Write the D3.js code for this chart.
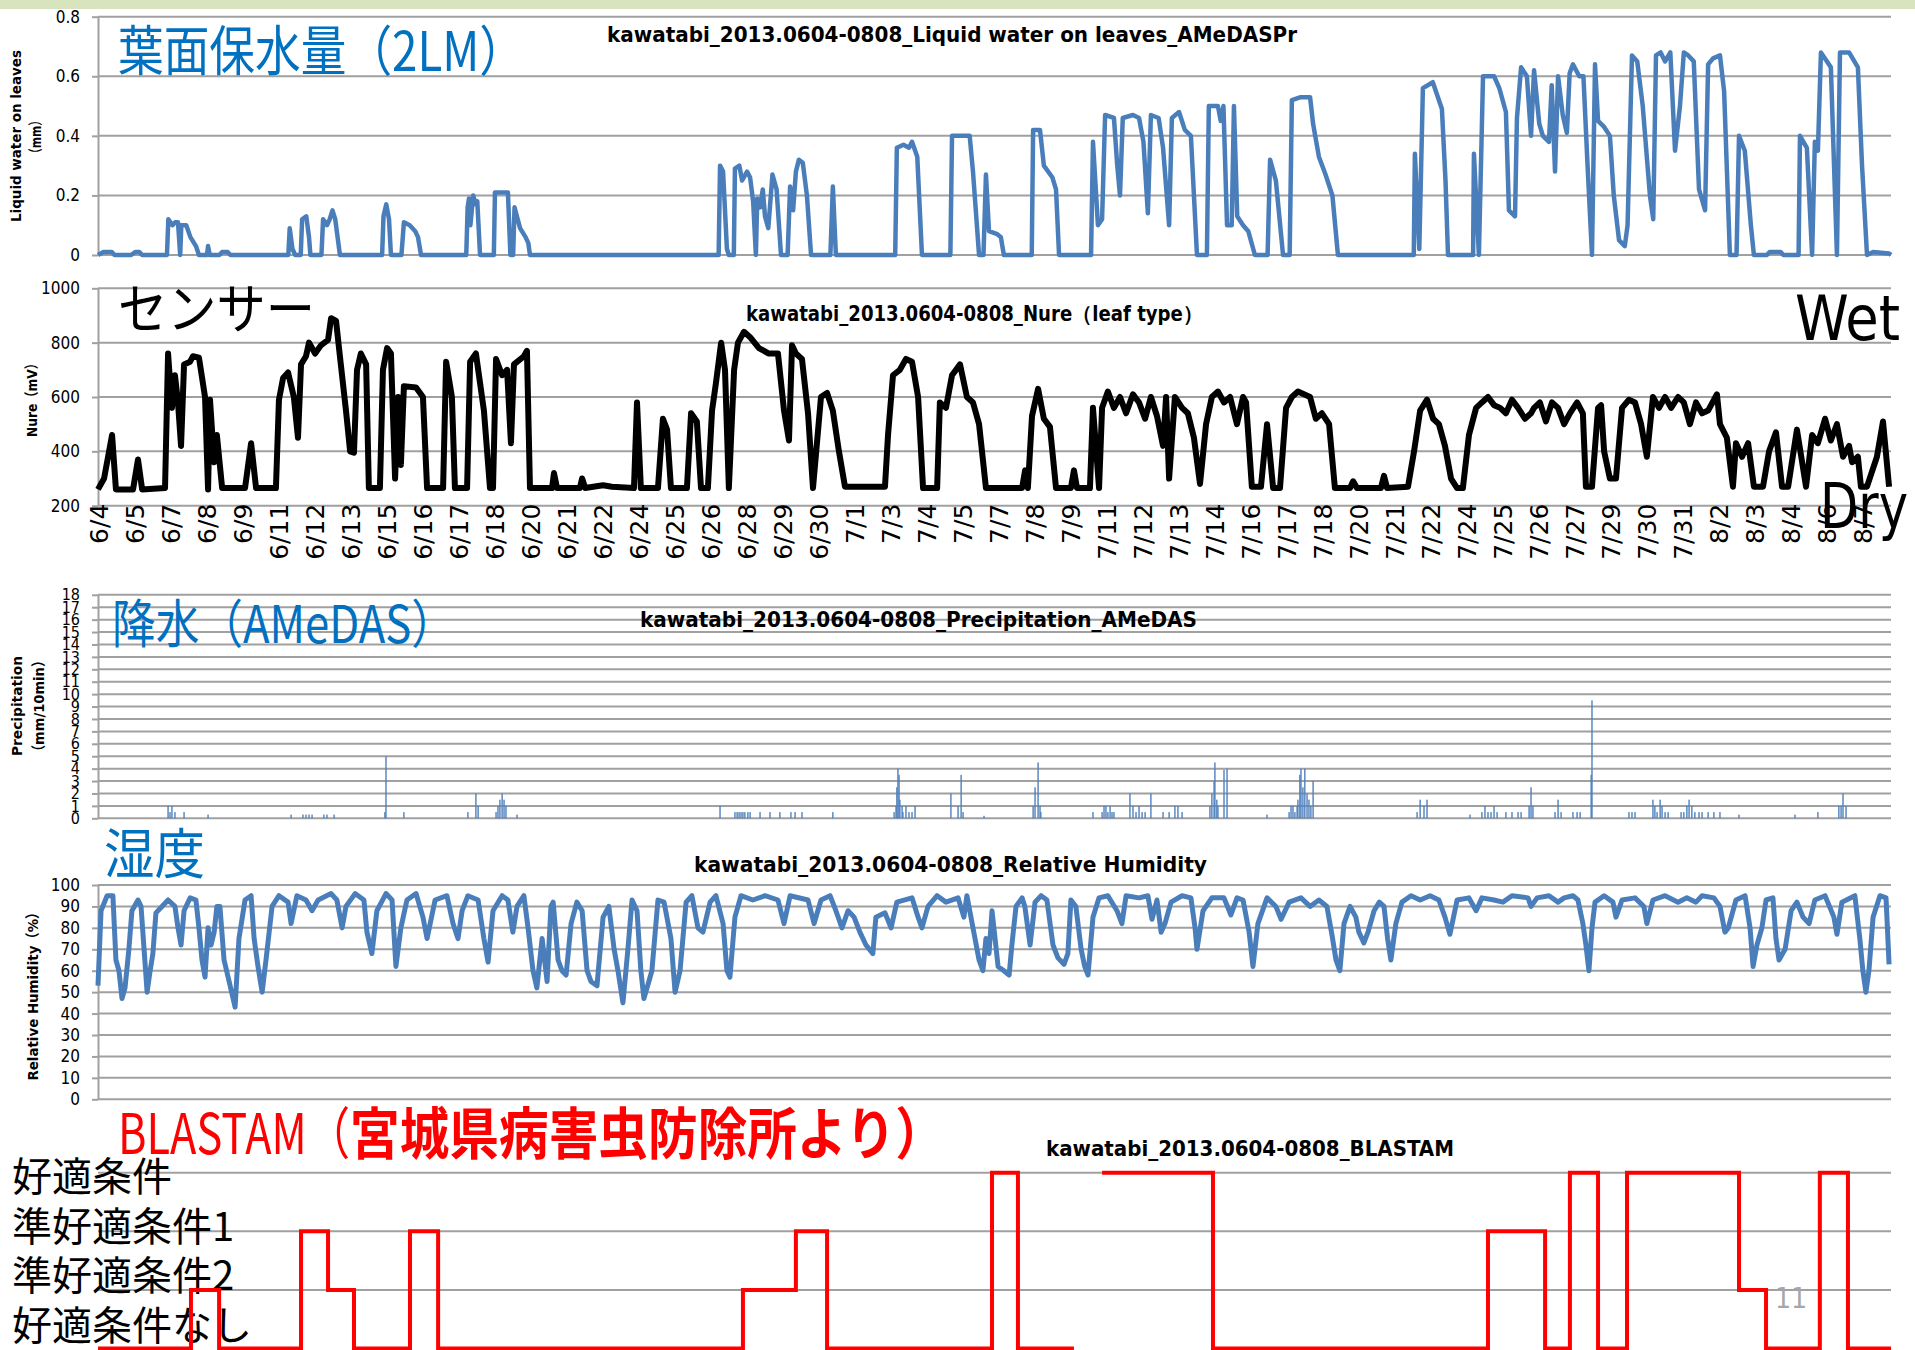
<!DOCTYPE html>
<html><head><meta charset="utf-8">
<script src="https://cdn.jsdelivr.net/npm/d3@7"></script>
<style>
body{margin:0;background:#fff}
svg{display:block}
.narrow{font-family:"Liberation Sans Narrow","Arial Narrow","DejaVu Sans Condensed","Liberation Sans",sans-serif}
.jp{font-family:"Noto Sans CJK JP","Noto Sans",sans-serif}
.ytitle{font-family:"DejaVu Sans","Noto Sans CJK JP",sans-serif;font-weight:bold;font-size:14.5px}
</style></head><body>
<svg id="c" width="1915" height="1350"></svg>
<script>
// ---------- DATA (time in days since 2013-06-04 00:00) ----------
const dateLabels = ["6/4","6/5","6/7","6/8","6/9","6/11","6/12","6/13","6/15","6/16","6/17","6/18","6/20","6/21","6/22","6/24","6/25","6/26","6/28","6/29","6/30","7/1","7/3","7/4","7/5","7/7","7/8","7/9","7/11","7/12","7/13","7/14","7/16","7/17","7/18","7/20","7/21","7/22","7/24","7/25","7/26","7/27","7/29","7/30","7/31","8/2","8/3","8/4","8/6","8/7"];
const labelStepDays = 188 * 10 / 1440; // one label every 188 ten-minute samples

const leafWaterTicks = [0, 0.2, 0.4, 0.6, 0.8];
const leafWater = [[0,0],[0.2,0.01],[0.5,0.01],[0.6,0],[1.2,0],[1.35,0.01],[1.5,0.01],[1.6,0],
[2.5,0],[2.55,0.12],[2.7,0.1],[2.8,0.11],[2.9,0.11],[2.98,0],[3.02,0.1],[3.2,0.1],[3.35,0.06],[3.55,0.03],[3.66,0],[3.95,0],[3.99,0.03],[4.05,0],[4.4,0],[4.5,0.01],[4.7,0.01],[4.8,0],
[6.9,0],[6.95,0.09],[7.05,0.02],[7.15,0],[7.35,0],[7.4,0.12],[7.55,0.13],[7.65,0.06],[7.7,0],[8.1,0],[8.16,0.12],[8.3,0.1],[8.4,0.12],[8.5,0.15],[8.6,0.12],[8.7,0.05],[8.77,0],
[10.3,0],[10.35,0.13],[10.45,0.17],[10.55,0.12],[10.62,0],[11.0,0],[11.09,0.11],[11.3,0.1],[11.5,0.08],[11.6,0.06],[11.71,0],
[13.35,0],[13.4,0.16],[13.45,0.19],[13.5,0.1],[13.6,0.2],[13.7,0.17],[13.75,0.18],[13.85,0],[14.35,0],[14.39,0.21],[14.86,0.21],[14.95,0],[15.05,0],[15.1,0.16],[15.3,0.09],[15.5,0.06],[15.6,0.04],[15.66,0],
[22.5,0],[22.55,0.3],[22.66,0.28],[22.8,0.02],[22.87,0],[23.05,0],[23.09,0.29],[23.25,0.3],[23.35,0.25],[23.53,0.28],[23.64,0.26],[23.75,0.18],[23.85,0],[23.9,0.19],[24.0,0.16],[24.1,0.22],[24.18,0.13],[24.3,0.09],[24.45,0.27],[24.6,0.22],[24.76,0],
[25.0,0],[25.09,0.23],[25.2,0.15],[25.3,0.28],[25.41,0.32],[25.55,0.31],[25.7,0.2],[25.85,0],[26.55,0],[26.64,0.23],[26.75,0],
[28.9,0],[28.96,0.36],[29.2,0.37],[29.4,0.36],[29.51,0.38],[29.7,0.33],[29.87,0],[30.9,0],[30.96,0.4],[31.6,0.4],[31.72,0.28],[31.94,0],[32.1,0],[32.19,0.27],[32.3,0.08],[32.6,0.07],[32.73,0.06],[32.84,0],
[33.85,0],[33.9,0.42],[34.15,0.42],[34.29,0.3],[34.6,0.26],[34.73,0.22],[34.84,0],
[36.0,0],[36.07,0.38],[36.25,0.1],[36.4,0.12],[36.51,0.47],[36.83,0.46],[36.95,0.3],[37.05,0.2],[37.15,0.46],[37.52,0.47],[37.74,0.46],[37.9,0.38],[38.06,0.14],[38.17,0.47],[38.45,0.46],[38.61,0.36],[38.83,0.1],[38.93,0.46],[39.19,0.48],[39.4,0.42],[39.62,0.4],[39.84,0],
[40.2,0],[40.27,0.5],[40.6,0.5],[40.7,0.45],[40.8,0.5],[40.93,0.1],[41.1,0.1],[41.18,0.5],[41.3,0.13],[41.51,0.1],[41.7,0.08],[41.94,0],
[42.4,0],[42.49,0.32],[42.7,0.25],[42.96,0],[43.2,0],[43.28,0.52],[43.6,0.53],[43.94,0.53],[44.05,0.44],[44.26,0.33],[44.5,0.27],[44.75,0.2],[44.95,0],
[47.7,0],[47.74,0.34],[47.9,0.02],[48.03,0.56],[48.39,0.58],[48.72,0.49],[48.85,0.25],[48.94,0],
[49.85,0],[49.88,0.34],[50.06,0],[50.21,0.6],[50.61,0.6],[50.8,0.56],[51.04,0.48],[51.15,0.15],[51.37,0.13],[51.44,0.46],[51.59,0.63],[51.8,0.6],[51.95,0.4],[52.06,0.62],[52.25,0.44],[52.38,0.4],[52.6,0.38],[52.7,0.57],[52.82,0.28],[52.93,0.6],[53.1,0.47],[53.25,0.41],[53.35,0.61],[53.47,0.64],[53.7,0.6],[53.85,0.6],[54.0,0.3],[54.16,0],[54.27,0.64],[54.38,0.45],[54.6,0.43],[54.81,0.4],[54.95,0.2],[55.14,0.05],[55.35,0.03],[55.45,0.1],[55.61,0.67],[55.8,0.65],[56.0,0.5],[56.26,0.2],[56.38,0.12],[56.48,0.67],[56.65,0.68],[56.81,0.65],[57.0,0.68],[57.17,0.35],[57.35,0.5],[57.49,0.68],[57.65,0.67],[57.85,0.65],[58.04,0.22],[58.26,0.15],[58.37,0.64],[58.55,0.66],[58.8,0.67],[58.95,0.55],[59.16,0],
[59.4,0],[59.49,0.4],[59.7,0.35],[59.92,0.1],[60.03,0],[60.5,0],[60.6,0.01],[61.0,0.01],[61.1,0],[61.65,0],[61.7,0.4],[61.95,0.36],[62.14,0],[62.24,0.38],[62.35,0.35],[62.46,0.68],[62.82,0.63],[63.04,0],[63.15,0.68],[63.48,0.68],[63.8,0.63],[63.95,0.3],[64.13,0],[64.35,0.01],[64.93,0.005],[65,0]];

const nureTicks = [200, 400, 600, 800, 1000];
const nure = [[0,260],[0.22,300],[0.51,460],[0.65,260],[1.27,260],[1.45,370],[1.6,260],[2.43,265],[2.54,760],[2.68,560],[2.79,680],[2.9,580],[3.01,420],[3.12,720],[3.34,730],[3.44,750],[3.66,745],[3.88,600],[3.99,260],[4.06,590],[4.21,360],[4.31,460],[4.5,265],[5.33,265],[5.55,430],[5.73,265],[6.45,265],[6.56,590],[6.71,670],[6.89,690],[7.1,600],[7.25,450],[7.36,720],[7.54,750],[7.65,800],[7.87,760],[8.08,790],[8.34,810],[8.45,890],[8.63,880],[8.77,750],[8.99,550],[9.14,400],[9.28,395],[9.39,700],[9.53,760],[9.72,720],[9.82,265],[10.22,265],[10.33,700],[10.48,780],[10.62,760],[10.77,300],[10.88,600],[10.98,350],[11.09,640],[11.53,635],[11.78,600],[11.93,265],[12.51,265],[12.62,730],[12.83,600],[12.94,265],[13.38,265],[13.49,730],[13.7,760],[13.99,550],[14.21,265],[14.32,265],[14.43,740],[14.65,680],[14.83,700],[14.97,430],[15.08,720],[15.44,750],[15.55,770],[15.66,265],[16.46,265],[16.53,320],[16.64,265],[17.47,265],[17.55,300],[17.66,265],[18.31,275],[18.63,270],[19.43,265],[19.54,580],[19.68,265],[20.3,265],[20.48,520],[20.63,480],[20.77,265],[21.35,265],[21.5,540],[21.71,510],[21.86,265],[22.11,265],[22.26,550],[22.4,650],[22.59,800],[22.73,700],[22.87,265],[23.06,700],[23.2,800],[23.42,840],[23.64,820],[23.96,780],[24.32,760],[24.65,760],[24.87,550],[25.05,440],[25.16,790],[25.3,760],[25.52,740],[25.74,540],[25.92,265],[26.21,600],[26.43,615],[26.64,550],[26.86,400],[27.08,270],[28.53,270],[28.64,460],[28.82,680],[29.07,700],[29.29,740],[29.51,730],[29.73,600],[29.91,265],[30.42,265],[30.52,580],[30.74,560],[30.96,680],[31.25,720],[31.5,600],[31.72,580],[31.94,500],[32.19,265],[33.5,265],[33.61,330],[33.71,265],[33.86,530],[34.08,630],[34.29,520],[34.51,490],[34.73,265],[35.27,265],[35.38,330],[35.49,265],[35.96,265],[36.07,560],[36.29,265],[36.4,560],[36.61,620],[36.83,560],[37.05,600],[37.27,540],[37.52,610],[37.74,580],[37.96,520],[38.17,600],[38.39,530],[38.61,420],[38.72,600],[38.83,300],[39.04,600],[39.3,560],[39.51,540],[39.73,450],[39.95,280],[40.17,500],[40.38,600],[40.6,620],[40.82,580],[41.04,600],[41.29,500],[41.51,600],[41.62,580],[41.83,270],[42.16,270],[42.38,500],[42.6,265],[42.85,265],[43.07,560],[43.28,600],[43.5,620],[43.94,600],[44.15,520],[44.37,540],[44.63,500],[44.84,265],[45.39,265],[45.5,290],[45.64,265],[46.51,265],[46.62,310],[46.73,265],[47.49,270],[47.71,400],[47.93,550],[48.18,590],[48.4,520],[48.61,500],[48.83,420],[49.05,300],[49.27,265],[49.48,265],[49.7,460],[49.96,560],[50.17,580],[50.39,600],[50.61,570],[50.83,560],[51.04,540],[51.26,590],[51.48,560],[51.73,520],[51.95,540],[52.06,560],[52.27,580],[52.49,510],[52.71,580],[52.93,560],[53.15,500],[53.36,540],[53.62,580],[53.83,540],[53.94,270],[54.16,270],[54.38,560],[54.49,570],[54.6,400],[54.81,300],[55.03,300],[55.25,560],[55.5,590],[55.72,580],[55.94,500],[56.15,380],[56.37,600],[56.59,560],[56.81,600],[57.03,560],[57.28,600],[57.49,580],[57.71,500],[57.93,580],[58.15,540],[58.37,550],[58.69,610],[58.8,500],[59.05,450],[59.27,270],[59.38,430],[59.6,380],[59.82,430],[60.03,270],[60.36,270],[60.58,400],[60.83,470],[61.05,270],[61.27,270],[61.59,480],[61.7,410],[61.92,270],[62.14,460],[62.35,430],[62.61,520],[62.82,440],[63.04,500],[63.26,380],[63.48,420],[63.59,360],[63.8,380],[63.91,270],[64.13,270],[64.49,380],[64.71,510],[64.93,270]];

const precipTicks = d3.range(0, 19);
const precip = [[2.54,1],[2.61,0.5],[2.68,1],[2.79,0.5],[3.12,0.5],[3.99,0.3],
[7.0,0.3],[7.43,0.3],[7.54,0.3],[7.65,0.3],[7.76,0.3],[8.19,0.3],[8.3,0.3],[8.56,0.3],
[10.4,0.5],[10.44,5.0],[11.09,0.5],[13.41,0.5],[13.7,2],[13.78,1],
[14.43,0.5],[14.5,1],[14.57,1.5],[14.65,2],[14.72,1.5],[14.79,1],[15.19,0.3],
[22.55,1],[23.09,0.5],[23.17,0.5],[23.24,0.5],[23.31,0.5],[23.38,0.5],[23.45,0.5],[23.56,0.5],[23.64,0.5],
[24.0,0.5],[24.36,0.5],[24.72,0.5],[25.12,0.5],[25.27,0.5],[25.52,0.5],[26.64,0.5],
[28.86,0.5],[28.93,1],[28.96,2.5],[29.0,4],[29.04,3.5],[29.07,1.5],[29.15,1],[29.18,0.5],
[29.29,1],[29.4,0.5],[29.51,0.5],[29.62,1],
[30.92,2],[31.18,1],[31.29,3.5],[31.36,0.5],[32.12,0.2],
[33.9,1],[33.97,2.5],[34.08,4.5],[34.15,1],[34.18,0.5],
[36.07,0.5],[36.4,0.5],[36.47,1],[36.54,1],[36.61,0.5],[36.69,1],[36.76,0.5],[36.83,0.5],
[37.41,2],[37.52,1],[37.63,0.5],[37.74,1],[37.85,0.5],[37.96,0.5],[38.17,2],
[38.61,0.5],[38.83,0.5],[39.04,1],[39.15,1],[39.3,0.5],
[40.31,1],[40.38,2],[40.46,3],[40.49,4.5],[40.56,1.5],[40.6,1],[40.82,3.9],[40.93,4],
[42.38,0.3],
[43.18,0.5],[43.25,1],[43.32,1],[43.39,0.5],[43.47,1],[43.5,1.5],[43.57,3.5],[43.61,4],[43.68,2.5],[43.75,4],[43.83,2],[43.9,1.5],[43.97,1],[44.05,3],
[47.82,0.5],[47.93,1.5],[48.07,1],[48.18,1.5],
[49.74,0.3],[50.17,0.5],[50.28,1],[50.39,0.5],[50.5,0.5],[50.61,1],[50.72,0.5],
[51.04,0.5],[51.26,0.5],[51.48,0.5],[51.59,0.5],[51.88,1],[51.95,2.5],[52.02,1],
[52.82,0.5],[52.93,1.5],[53.04,0.5],[53.47,0.5],[53.62,0.5],[53.73,0.5],
[54.13,3.5],[54.16,9.5],
[55.5,0.5],[55.61,0.5],[55.72,0.5],
[56.37,1.5],[56.44,1],[56.52,0.5],[56.63,1.5],[56.7,1],[56.81,0.5],[56.92,0.5],
[57.39,0.5],[57.49,0.5],[57.6,1],[57.68,1.5],[57.78,1],[57.89,0.5],[58.04,0.5],[58.15,0.5],
[58.37,0.5],[58.58,0.5],[58.8,0.5],[59.49,0.3],
[61.52,0.3],[62.35,0.5],[63.11,1],[63.19,1],[63.26,2],[63.37,1]];

const humidityTicks = d3.range(0, 101, 10);
const humidity = [[0,53],[0.11,88],[0.33,95],[0.54,95],[0.65,65],[0.76,60],[0.87,47],[0.98,52],[1.12,70],[1.23,88],[1.45,93],[1.56,90],[1.67,70],[1.78,50],[1.89,60],[1.99,68],[2.1,87],[2.32,90],[2.54,93],[2.79,90],[2.9,80],[3.01,72],[3.12,88],[3.34,94],[3.55,93],[3.66,80],[3.77,65],[3.88,57],[3.99,80],[4.1,72],[4.21,78],[4.31,90],[4.42,90],[4.57,65],[4.79,53],[4.97,43],[5.11,75],[5.33,93],[5.55,95],[5.66,75],[5.8,62],[5.95,50],[6.09,65],[6.31,90],[6.56,95],[6.89,92],[7.0,82],[7.21,95],[7.54,93],[7.76,88],[7.98,93],[8.45,96],[8.66,93],[8.85,80],[8.99,90],[9.32,96],[9.64,93],[9.75,78],[9.93,68],[10.11,88],[10.44,96],[10.66,93],[10.8,62],[10.98,80],[11.2,93],[11.53,96],[11.78,85],[11.93,75],[12.22,93],[12.65,95],[12.87,82],[13.05,75],[13.2,88],[13.41,95],[13.78,93],[13.99,75],[14.14,64],[14.32,88],[14.65,95],[14.86,93],[15.04,78],[15.19,90],[15.44,95],[15.59,80],[15.77,60],[15.91,52],[16.1,75],[16.28,55],[16.42,90],[16.5,92],[16.68,65],[16.82,60],[16.97,58],[17.15,82],[17.36,92],[17.55,88],[17.73,60],[17.87,55],[18.09,53],[18.31,85],[18.52,90],[18.71,70],[18.85,60],[19.03,45],[19.21,70],[19.36,93],[19.54,88],[19.68,60],[19.79,47],[19.97,55],[20.08,60],[20.3,93],[20.52,92],[20.77,75],[20.92,50],[21.1,60],[21.32,92],[21.53,95],[21.75,80],[21.93,78],[22.19,92],[22.4,95],[22.66,82],[22.8,60],[22.91,57],[23.09,85],[23.31,95],[23.74,93],[24.18,95],[24.65,93],[24.87,82],[25.09,95],[25.74,93],[25.96,82],[26.21,93],[26.54,95],[26.75,88],[26.97,80],[27.19,88],[27.41,85],[27.62,78],[27.84,72],[28.09,68],[28.2,85],[28.53,87],[28.75,80],[28.96,92],[29.51,94],[29.73,85],[29.87,80],[30.09,90],[30.42,95],[30.74,92],[31.18,94],
[31.39,85],[31.5,95],[31.72,80],[31.94,65],[32.08,60],[32.19,75],[32.3,68],[32.41,88],[32.52,75],[32.63,62],[32.84,60],[33.03,58],[33.13,72],[33.28,90],[33.5,94],[33.6,90],[33.79,72],[33.97,92],[34.19,95],[34.4,93],[34.62,72],[34.8,66],[35.02,63],[35.16,68],[35.27,93],[35.45,90],[35.64,70],[35.77,62],[35.89,58],[36.07,85],[36.29,94],[36.61,95],[36.94,88],[37.12,82],[37.27,95],[37.74,94],[38.06,95],[38.21,84],[38.39,93],[38.54,78],[38.68,82],[38.9,92],[39.3,95],[39.62,94],[39.77,80],[39.84,70],[40.06,88],[40.38,94],[40.82,94],[41.07,86],[41.29,94],[41.51,93],[41.73,78],[41.87,62],[42.05,82],[42.38,94],[42.7,90],[42.89,84],[43.18,92],[43.61,94],[43.94,90],[44.26,93],[44.55,90],[44.73,77],[44.88,65],[45.02,60],[45.17,82],[45.39,90],[45.6,85],[45.71,78],[45.89,73],[46.04,78],[46.26,88],[46.45,92],[46.62,90],[46.75,75],[46.87,65],[47.05,82],[47.27,92],[47.6,95],[47.93,93],[48.29,95],[48.61,93],[48.83,85],[49.01,77],[49.27,93],[49.7,94],[49.96,88],[50.17,94],[50.61,93],[50.93,92],[51.26,95],[51.84,94],[51.95,90],[52.17,94],[52.6,95],[52.93,92],[53.15,94],[53.47,95],[53.65,93],[53.83,82],[53.94,72],[54.05,60],[54.16,80],[54.27,92],[54.6,95],[54.92,92],[55.03,85],[55.25,93],[55.72,94],[56.04,90],[56.15,82],[56.37,93],[56.81,95],[57.28,92],[57.6,94],[57.93,92],[58.15,95],[58.58,94],[58.8,90],[58.98,78],[59.1,80],[59.38,93],[59.71,95],[59.89,80],[60.0,62],[60.14,72],[60.32,80],[60.47,93],[60.72,94],[60.83,75],[60.94,65],[61.16,70],[61.38,88],[61.59,92],[61.81,85],[62.03,82],[62.24,93],[62.61,95],[62.93,85],[63.04,77],[63.22,92],[63.69,95],[63.87,75],[63.98,60],[64.09,50],[64.2,60],[64.35,85],[64.6,95],[64.82,94],[64.93,63]];

const blastamLevels = ["好適条件なし","準好適条件2","準好適条件1","好適条件"];
const blastamLabels = ["好適条件","準好適条件1","準好適条件2","好適条件なし"];
const blastam = [[0,0],[3.37,1],[4.39,0],[7.36,2],[8.34,1],[9.28,0],[11.31,2],[12.33,0],[23.38,1],[25.3,2],[26.43,0],[32.41,3],[33.35,0],[35.38,0],[35.38,null],[36.4,3],[40.42,0],[50.39,2],[52.46,0],[53.36,3],[54.38,0],[55.43,3],[59.49,1],[60.47,0],[62.42,3],[63.44,0],[65,0]];

// ---------- DRAW ----------
const svg = d3.select("#c");
const L = 98, R = 1891;
const GRID = "#a0a0a0", BLUE = "#4a7ebb";
const x = d3.scaleLinear().domain([0, 65]).range([L, R]);

svg.append("rect").attr("x",0).attr("y",0).attr("width",1915).attr("height",9).attr("fill","#d8e4bd");

function grid(y, ticks) {
  svg.append("g").selectAll("line").data(ticks).join("line")
    .attr("x1", L).attr("x2", R).attr("y1", d => y(d)).attr("y2", d => y(d))
    .attr("stroke", GRID).attr("stroke-width", 2);
}
function yAxis(y, ticks, fmt, fs) {
  const g = svg.append("g").attr("transform", `translate(${L},0)`)
    .call(d3.axisLeft(y).tickValues(ticks).tickFormat(fmt).tickSize(6).tickSizeOuter(0).tickPadding(12));
  g.select(".domain").attr("stroke", GRID).attr("stroke-width", 2);
  g.selectAll(".tick line").attr("stroke", GRID).attr("stroke-width", 2);
  g.selectAll(".tick text").attr("class","narrow").attr("font-size", fs || 17).attr("fill", "#000");
}
function title(txt, x0, len, base) {
  svg.append("text").attr("class","narrow").attr("x", x0).attr("y", base)
    .attr("font-size", 21).attr("font-weight", "bold").attr("textLength", len)
    .attr("lengthAdjust", "spacingAndGlyphs").text(txt);
}
function ytitle(lines, cx, cy, lens) {
  lines.forEach((t, i) => {
    svg.append("text").attr("class","ytitle").attr("text-anchor","middle")
      .attr("transform", `translate(${cx[i]},${cy[i]}) rotate(-90)`)
      .attr("textLength", lens[i]).attr("lengthAdjust","spacingAndGlyphs").text(t);
  });
}
function bigLabel(txt, x0, base, size, len, color, weight) {
  svg.append("text").attr("class","jp").attr("x", x0).attr("y", base)
    .attr("font-size", size).attr("fill", color).attr("font-weight", weight || "normal")
    .attr("textLength", len).attr("lengthAdjust","spacingAndGlyphs").text(txt);
}

// Panel 1: liquid water on leaves
const y1 = d3.scaleLinear().domain([0, 0.8]).range([255, 16.7]);
grid(y1, leafWaterTicks);
yAxis(y1, leafWaterTicks, d => d === 0 ? "0" : d.toFixed(1));
bigLabel("葉面保水量（2LM）", 118, 71, 54, 407, "#0070c0");
title("kawatabi_2013.0604-0808_Liquid  water on leaves_AMeDASPr", 607, 690, 42);
ytitle(["Liquid water on leaves", "（mm）"], [21, 41], [136, 137], [172, 44]);
svg.append("path").datum(leafWater)
  .attr("d", d3.line().x(d => x(d[0])).y(d => y1(d[1])))
  .attr("fill","none").attr("stroke", BLUE).attr("stroke-width", 4.5).attr("stroke-linejoin","round");

// Panel 2: Nure
const y2 = d3.scaleLinear().domain([200, 1000]).range([505.7, 288.3]);
grid(y2, nureTicks);
yAxis(y2, nureTicks, d3.format("d"));
bigLabel("センサー", 118, 329, 54, 197, "#000");
title("kawatabi_2013.0604-0808_Nure（leaf type）", 746, 457, 321);
ytitle(["Nure（mV）"], [37], [397], [80]);
svg.append("path").datum(nure)
  .attr("d", d3.line().x(d => x(d[0])).y(d => y2(d[1])))
  .attr("fill","none").attr("stroke", "#000").attr("stroke-width", 6).attr("stroke-linejoin","round");

// date axis
const xa = svg.append("g").attr("transform", "translate(0,505.7)")
  .call(d3.axisBottom(x).tickValues(dateLabels.map((d, i) => i * labelStepDays))
    .tickFormat((d, i) => dateLabels[i]).tickSize(0).tickSizeOuter(0));
xa.select(".domain").remove();
xa.selectAll(".tick text").attr("transform","rotate(-90)").attr("x", 2).attr("y", 0)
  .attr("dy","0.36em").attr("text-anchor","end")
  .attr("font-family","DejaVu Sans, sans-serif").attr("font-size", 25).attr("fill","#000");

svg.append("text").attr("class","narrow").attr("x",1795).attr("y",340).attr("font-size",62)
  .attr("textLength",105).attr("lengthAdjust","spacingAndGlyphs").text("Wet");
svg.append("text").attr("class","narrow").attr("x",1820).attr("y",528).attr("font-size",62)
  .attr("textLength",88).attr("lengthAdjust","spacingAndGlyphs").text("Dry");

// Panel 3: precipitation
const y3 = d3.scaleLinear().domain([0, 18]).range([818.3, 594.8]);
grid(y3, precipTicks);
yAxis(y3, precipTicks, d3.format("d"), 16);
bigLabel("降水（AMeDAS）", 112, 643, 52, 343, "#0070c0");
title("kawatabi_2013.0604-0808_Precipitation_AMeDAS", 640, 557, 627);
ytitle(["Precipitation", "（mm/10min）"], [22, 44], [706, 706], [100, 104]);
svg.append("g").selectAll("rect").data(precip).join("rect")
  .attr("x", d => x(d[0]) - 0.7).attr("width", 1.4)
  .attr("y", d => y3(d[1])).attr("height", d => y3(0) - y3(d[1]))
  .attr("fill", "#4f81bd");

// Panel 4: humidity
const y4 = d3.scaleLinear().domain([0, 100]).range([1099.3, 885]);
grid(y4, humidityTicks);
yAxis(y4, humidityTicks, d3.format("d"));
bigLabel("湿度", 104, 874, 54, 101, "#0070c0");
title("kawatabi_2013.0604-0808_Relative   Humidity", 694, 513, 872);
ytitle(["Relative Humidity（%）"], [38], [993], [175]);
svg.append("path").datum(humidity)
  .attr("d", d3.line().x(d => x(d[0])).y(d => y4(d[1])))
  .attr("fill","none").attr("stroke", BLUE).attr("stroke-width", 5).attr("stroke-linejoin","round");

// Panel 5: BLASTAM
const y5 = d3.scaleLinear().domain([0, 3]).range([1348.5, 1172.7]);
grid(y5, [1, 2, 3]);
bigLabel("BLASTAM（", 118, 1154, 56, 232, "#ff0000");
bigLabel("宮城県病害虫防除所より）", 350, 1154, 56, 595, "#ff0000", "bold");
title("kawatabi_2013.0604-0808_BLASTAM", 1046, 408, 1156);
blastamLabels.forEach((t, i) => {
  svg.append("text").attr("class","jp").attr("x", 12).attr("y", 1191 + i * 49.7)
    .attr("font-size", 40).attr("fill", "#000").text(t);
});
svg.append("text").attr("class","narrow").attr("x",1775).attr("y",1308).attr("font-size",28)
  .attr("fill","#a6a6a6").text("11");
svg.append("path").datum(blastam)
  .attr("d", d3.line().defined(d => d[1] !== null).curve(d3.curveStepAfter)
    .x(d => x(d[0])).y(d => y5(d[1])))
  .attr("fill","none").attr("stroke", "#ff0000").attr("stroke-width", 4);
</script>
</body></html>
